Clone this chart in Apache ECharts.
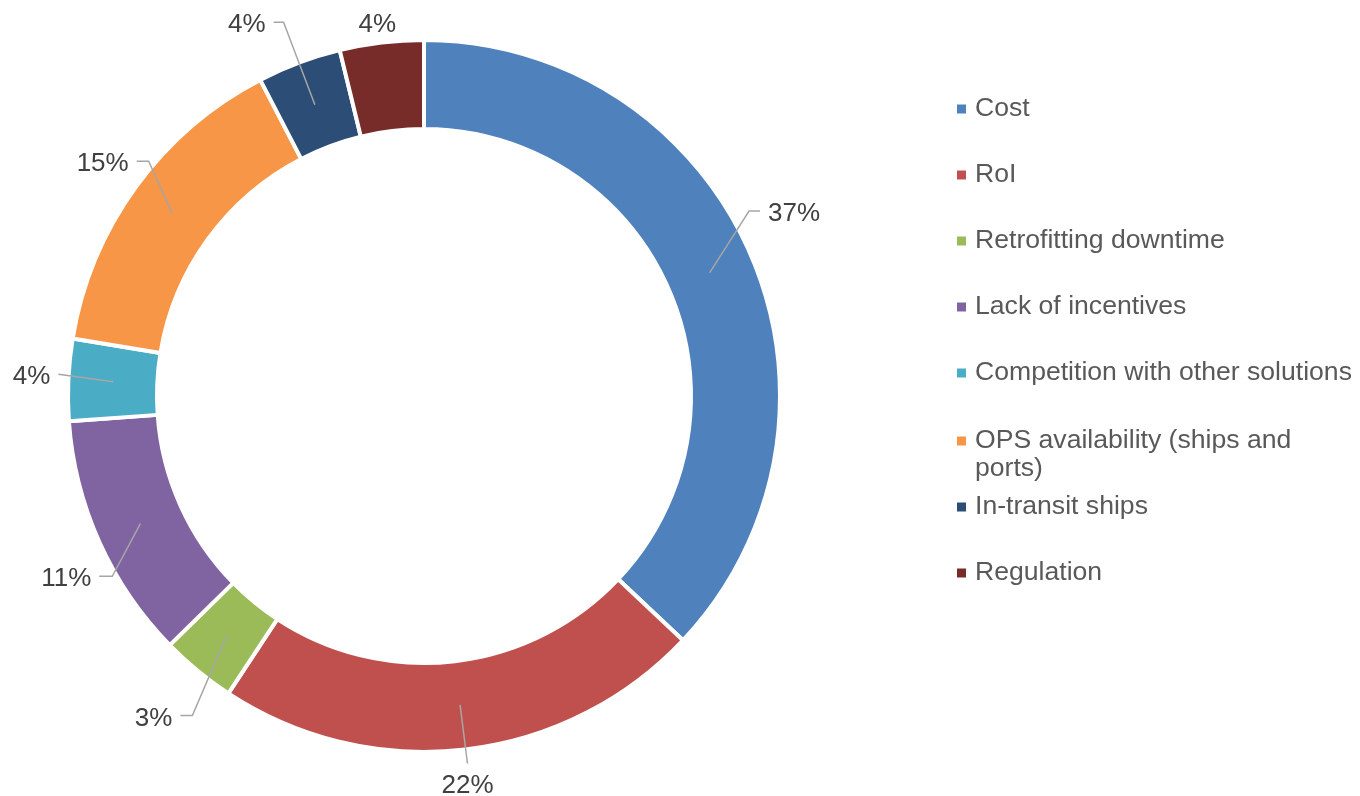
<!DOCTYPE html>
<html lang="en">
<head>
  <meta charset="UTF-8">
  <title>Barriers</title>
  <style>
    html, body { margin: 0; padding: 0; background: #fff; }
    #main { width: 1360px; height: 796px; }
  </style>
</head>
<body>
  <div id="main"></div>
  <script src="https://cdn.jsdelivr.net/npm/echarts@6/dist/echarts.min.js"></script>
  <script>
    var categories = ['Cost', 'RoI', 'Retrofitting downtime', 'Lack of incentives',
      'Competition with other solutions', 'OPS availability (ships and ports)', 'In-transit ships', 'Regulation'];
    var shares = [37.0, 22.2, 3.4, 11.2, 3.7, 14.8, 3.8, 3.8];
    var colors = ['#4f81bd', '#c0504d', '#9bbb59', '#8064a2', '#4bacc6', '#f79646', '#2c4d75', '#772c2a'];

    // label placement (mimics excel "best fit"): elbow shift, horizontal tail, mode
    var labelShift = [[-11, -40], [1, 4], [1, 37], [22, 30], [0, -5], [21, -20], [-12, -31], [-3, -10]];
    var labelTail = [11, 0, 12, 13, 0, 12, 10, 0];
    var labelMode = ['side', 'below', 'side', 'side', 'side', 'side', 'side', 'free'];

    var chart = echarts.init(document.getElementById('main'));
    var data = categories.map(function (name, i) {
      return { name: name, value: shares[i] };
    });

    function placeLabel(p) {
      var i = p.dataIndex;
      var pts = p.labelLinePoints;
      if (!pts) return {};
      var a = pts[0];
      var e = [pts[1][0] + labelShift[i][0], pts[1][1] + labelShift[i][1]];
      if (labelMode[i] === 'below') {
        return { x: e[0], y: e[1] + 22, align: 'center', verticalAlign: 'middle', labelLinePoints: [a, e, e] };
      }
      if (labelMode[i] === 'free') {
        return { x: e[0], y: e[1] + 2, align: 'center', verticalAlign: 'middle', labelLinePoints: [e, e, e] };
      }
      var dir = e[0] < a[0] ? -1 : 1;
      var t = [e[0] + dir * labelTail[i], e[1]];
      return {
        x: t[0] + dir * 8,
        y: t[1] + 3,
        align: dir < 0 ? 'right' : 'left',
        verticalAlign: 'middle',
        labelLinePoints: [a, e, t]
      };
    }

    // legend split in 3 blocks so the wrapped OPS entry keeps the regular spacing
    function legendBlock(names, top, padFirst) {
      return {
        orient: 'vertical',
        left: 957,
        top: top,
        padding: 0,
        itemGap: 38,
        itemWidth: 9,
        itemHeight: 9,
        icon: 'rect',
        selectedMode: false,
        itemStyle: { borderWidth: 0 },
        data: names,
        formatter: function (name) {
          var txt = name.replace(' ports)', '\nports)');
          // blank first line keeps the icon level with the first text line
          return padFirst ? ' \n' + txt : txt;
        },
        textStyle: { fontSize: 26.6, color: '#595959', lineHeight: 28, padding: [0, 0, 0, 4] }
      };
    }

    var option = {
      color: colors,
      animation: false,
      textStyle: { fontFamily: 'Liberation Sans, Arial, sans-serif' },
      legend: [
        legendBlock(categories.slice(0, 5), 95),
        legendBlock(categories.slice(5, 6), 399, true),
        legendBlock(categories.slice(6), 493)
      ],
      series: [{
        type: 'pie',
        center: [424, 396],
        radius: [267, 356],
        startAngle: 90,
        silent: true,
        label: { show: false },
        labelLine: { show: false },
        itemStyle: { borderColor: '#ffffff', borderWidth: 4 },
        data: data
      }, {
        // transparent twin at mid-ring radius, only carries labels + leader lines
        type: 'pie',
        center: [424, 396],
        radius: [0, 311],
        startAngle: 90,
        silent: true,
        avoidLabelOverlap: false,
        z: 5,
        itemStyle: { color: 'rgba(0,0,0,0)' },
        label: {
          show: true,
          position: 'outside',
          color: '#404040',
          fontSize: 26,
          formatter: function (p) { return Math.round(p.value) + '%'; }
        },
        labelLine: {
          show: true,
          length: 55,
          length2: 0,
          lineStyle: { color: '#a6a6a6', width: 1.5 }
        },
        labelLayout: placeLabel,
        data: data
      }]
    };
    chart.setOption(option);
  </script>
</body>
</html>
